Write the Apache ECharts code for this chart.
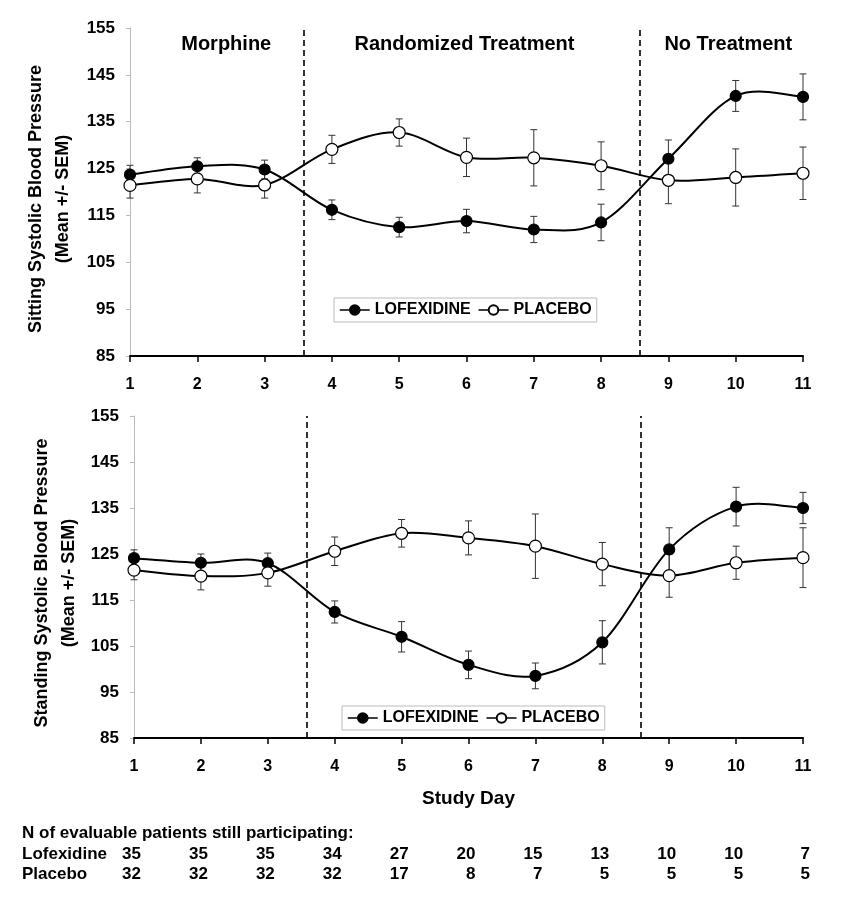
<!DOCTYPE html>
<html><head><meta charset="utf-8">
<script src="https://cdn.jsdelivr.net/npm/echarts@6/dist/echarts.min.js"></script>
<style>html,body{margin:0;padding:0;background:#fff}#c{width:851px;height:899px}</style>
</head><body><div id="c"></div>
<script>
// ---------- data ----------
const days = [1, 2, 3, 4, 5, 6, 7, 8, 9, 10, 11];
const sitLofMean = [123.7, 125.5, 124.8, 116.2, 112.5, 113.8, 112.0, 113.5, 127.1, 140.5, 140.3];
const sitLofSem  = [2.0, 1.8, 2.0, 2.1, 2.1, 2.5, 2.8, 3.9, 4.0, 3.3, 4.9];
const sitPlaMean = [121.4, 122.8, 121.5, 129.1, 132.7, 127.4, 127.3, 125.6, 122.5, 123.1, 124.0];
const sitPlaSem  = [2.7, 3.0, 2.8, 3.0, 2.9, 4.1, 6.0, 5.1, 5.0, 6.1, 5.6];
const stdLofMean = [124.1, 123.1, 123.0, 112.4, 107.0, 100.9, 98.5, 105.8, 126.0, 135.3, 135.0];
const stdLofSem  = [1.8, 1.9, 2.2, 2.4, 3.3, 3.0, 2.8, 4.7, 4.7, 4.2, 3.4];
const stdPlaMean = [121.5, 120.2, 120.9, 125.6, 129.5, 128.5, 126.7, 122.8, 120.3, 123.1, 124.2];
const stdPlaSem  = [2.1, 3.0, 2.9, 3.1, 3.0, 3.7, 7.0, 4.7, 4.7, 3.6, 6.5];
const nLof = [35, 35, 35, 34, 27, 20, 15, 13, 10, 10, 7];
const nPla = [32, 32, 32, 32, 17, 8, 7, 5, 5, 5, 5];
const yMin = 85, yMax = 155, yStep = 10;
const phaseBounds = [3.58, 8.57];
const phaseLabels = ['Morphine', 'Randomized Treatment', 'No Treatment'];
const phaseLabelDays = [2.43, 5.97, 9.89];
const seriesNames = ['LOFEXIDINE', 'PLACEBO'];
const yTitles = [['Sitting Systolic Blood Pressure', '(Mean +/- SEM)'], ['Standing Systolic Blood Pressure', '(Mean +/- SEM)']];
const xTitle = 'Study Day';
const tableTitle = 'N of evaluable patients still participating:';
const rowNames = ['Lofexidine', 'Placebo'];

// ---------- chart ----------
const FONT = '"Liberation Sans", Arial, sans-serif';
const chart = echarts.init(document.getElementById('c'), null, {renderer: 'canvas'});

function errSeries(idx, means, sems) {
  return {
    type: 'custom', xAxisIndex: idx, yAxisIndex: idx, z: 1, silent: true,
    data: days.map((d, i) => [d, means[i] - sems[i], means[i] + sems[i]]),
    encode: {x: 0, y: [1, 2]},
    renderItem(params, api) {
      const x = api.value(0);
      const lo = api.coord([x, api.value(1)]);
      const hi = api.coord([x, api.value(2)]);
      const w = 3.5, st = {stroke: '#333', lineWidth: 1};
      return {type: 'group', children: [
        {type: 'line', shape: {x1: lo[0], y1: lo[1], x2: hi[0], y2: hi[1]}, style: st},
        {type: 'line', shape: {x1: lo[0] - w, y1: lo[1], x2: lo[0] + w, y2: lo[1]}, style: st},
        {type: 'line', shape: {x1: hi[0] - w, y1: hi[1], x2: hi[0] + w, y2: hi[1]}, style: st}
      ]};
    }
  };
}
// Excel-style (Catmull-Rom) smoothed connecting curve, one bezier per segment
function curveSeries(idx, means) {
  const n = days.length;
  const cl = k => Math.max(0, Math.min(n - 1, k));
  return {
    type: 'custom', xAxisIndex: idx, yAxisIndex: idx, z: 2, silent: true,
    data: days.map((d, i) => [d, means[i]]),
    encode: {x: 0, y: 1},
    renderItem(params, api) {
      const i = params.dataIndex;
      if (i >= n - 1) return null;
      const P = k => api.coord([days[cl(k)], means[cl(k)]]);
      const p0 = P(i - 1), p1 = P(i), p2 = P(i + 1), p3 = P(i + 2);
      const t = 1 / 6;
      return {
        type: 'bezierCurve',
        shape: {
          x1: p1[0], y1: p1[1], x2: p2[0], y2: p2[1],
          cpx1: p1[0] + (p2[0] - p0[0]) * t, cpy1: p1[1] + (p2[1] - p0[1]) * t,
          cpx2: p2[0] - (p3[0] - p1[0]) * t, cpy2: p2[1] - (p3[1] - p1[1]) * t
        },
        style: {stroke: '#000', lineWidth: 2, fill: null}
      };
    }
  };
}
function markerSeries(idx, name, means, filled, withMark) {
  const s = {
    name, type: 'line', xAxisIndex: idx, yAxisIndex: idx, z: 3,
    data: days.map((d, i) => [d, means[i]]),
    symbol: 'circle', symbolSize: filled ? 11 : 12,
    lineStyle: {color: '#000', width: 2, opacity: 0},
    itemStyle: {color: filled ? '#000' : '#fff', borderColor: '#000', borderWidth: 1.2},
    emphasis: {disabled: true}
  };
  if (withMark) {
    s.markLine = {
      silent: true, symbol: 'none', label: {show: false},
      lineStyle: {color: '#000', width: 1.6, type: [6, 4], opacity: 1},
      data: phaseBounds.map(v => ({xAxis: v}))
    };
  }
  return s;
}
function xAx(idx) {
  const a = {
    gridIndex: idx, type: 'value', min: 1, max: 11, interval: 1,
    axisLine: {lineStyle: {color: '#000', width: 2}},
    axisTick: {show: true, length: 6, lineStyle: {color: '#000', width: 1.5}},
    axisLabel: {fontFamily: FONT, fontWeight: 'bold', fontSize: 16, color: '#000', margin: 21},
    splitLine: {show: false}
  };
  if (idx === 1) {
    a.name = xTitle; a.nameLocation = 'middle'; a.nameGap = 51;
    a.nameTextStyle = {fontFamily: FONT, fontWeight: 'bold', fontSize: 19, color: '#000'};
  }
  return a;
}
function yAx(idx) {
  return {
    gridIndex: idx, type: 'value', min: yMin, max: yMax, interval: yStep,
    axisLine: {show: true, lineStyle: {color: '#bbb', width: 1}},
    axisTick: {show: true, length: 4, lineStyle: {color: '#bbb'}},
    axisLabel: {fontFamily: FONT, fontWeight: 'bold', fontSize: 17, color: '#000', margin: 15},
    splitLine: {show: false}
  };
}
function legend(left, top) {
  return {
    data: seriesNames, left, top, orient: 'horizontal',
    backgroundColor: '#fff', borderColor: '#bbb', borderWidth: 1, borderRadius: 0,
    padding: [4, 5], itemGap: 7, itemWidth: 30, itemHeight: 12,
    selectedMode: false,
    lineStyle: {color: '#000', width: 1.5, opacity: 1},
    textStyle: {fontFamily: FONT, fontWeight: 'bold', fontSize: 16, color: '#000'}
  };
}

chart.setOption({
  animation: false,
  backgroundColor: '#fff',
  grid: [
    {left: 130, right: 48, top: 28, height: 328},
    {left: 134, right: 48, top: 416, height: 322}
  ],
  xAxis: [xAx(0), xAx(1)],
  yAxis: [yAx(0), yAx(1)],
  legend: [legend(334, 298), legend(342, 706)],
  series: [
    errSeries(0, sitLofMean, sitLofSem),
    errSeries(0, sitPlaMean, sitPlaSem),
    errSeries(1, stdLofMean, stdLofSem),
    errSeries(1, stdPlaMean, stdPlaSem),
    curveSeries(0, sitLofMean),
    curveSeries(0, sitPlaMean),
    curveSeries(1, stdLofMean),
    curveSeries(1, stdPlaMean),
    markerSeries(0, seriesNames[0], sitLofMean, true, true),
    markerSeries(0, seriesNames[1], sitPlaMean, false, false),
    markerSeries(1, seriesNames[0], stdLofMean, true, true),
    markerSeries(1, seriesNames[1], stdPlaMean, false, false)
  ]
});

// ---------- annotations placed through the axes ----------
const gr = [];
const boldText = (x, y, text, size, align) => ({
  type: 'text', x, y, silent: true,
  style: {text, fontFamily: FONT, fontWeight: 'bold', fontSize: size, fill: '#000',
          align: align || 'center', verticalAlign: 'middle'}
});

phaseLabels.forEach((t, i) => {
  const p = chart.convertToPixel({xAxisIndex: 0, yAxisIndex: 0}, [phaseLabelDays[i], 151.4]);
  gr.push(boldText(p[0], p[1], t, 20));
});
[0, 1].forEach(idx => {
  const mid = chart.convertToPixel({yAxisIndex: idx}, (yMin + yMax) / 2);
  const cx = idx === 0 ? 50 : 56;
  gr.push({
    type: 'text', x: cx, y: mid + (idx === 0 ? 7 : 6), rotation: Math.PI / 2, silent: true,
    style: {text: yTitles[idx].join('\n'), fontFamily: FONT, fontWeight: 'bold', fontSize: 18,
            lineHeight: 27, fill: '#000', align: 'center', verticalAlign: 'middle'}
  });
});
gr.push(boldText(22, 833, tableTitle, 17, 'left'));
gr.push(boldText(22, 854, rowNames[0], 17, 'left'));
gr.push(boldText(22, 874, rowNames[1], 17, 'left'));
days.forEach((d, i) => {
  const x = chart.convertToPixel({xAxisIndex: 1}, d) + 7;
  gr.push(boldText(x, 854, String(nLof[i]), 17, 'right'));
  gr.push(boldText(x, 874, String(nPla[i]), 17, 'right'));
});
chart.setOption({graphic: gr});
</script>
</body></html>
